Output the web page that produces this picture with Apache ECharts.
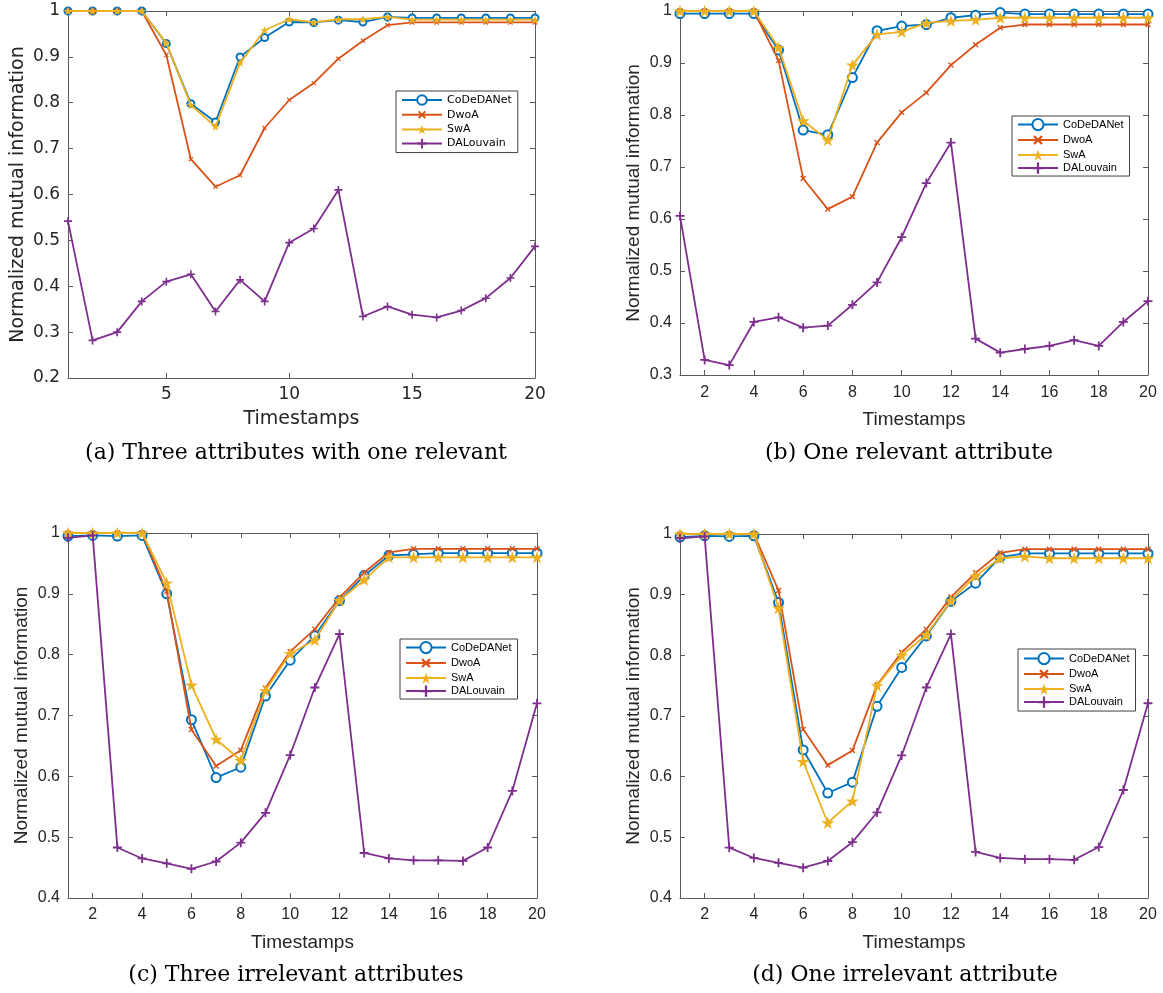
<!DOCTYPE html>
<html>
<head>
<meta charset="utf-8">
<script src="https://cdn.jsdelivr.net/npm/echarts@6/dist/echarts.min.js"></script>
<style>
html,body{margin:0;padding:0;background:#fff;}
#c{width:1163px;height:993px;}
</style>
</head>
<body>
<div id="c"></div>
<script>
// ---------- data ----------
const timestamps = [1,2,3,4,5,6,7,8,9,10,11,12,13,14,15,16,17,18,19,20];
const seriesNames = ['CoDeDANet','DwoA','SwA','DALouvain'];

// (a) Three attributes with one relevant
const aCoDeDANet = [1.0,1.0,1.0,1.0,0.929,0.798,0.758,0.900,0.942,0.976,0.975,0.980,0.976,0.987,0.985,0.985,0.985,0.985,0.985,0.985];
const aDwoA      = [1.0,1.0,1.0,1.0,0.904,0.677,0.617,0.642,0.745,0.806,0.843,0.896,0.935,0.969,0.975,0.975,0.975,0.975,0.975,0.975];
const aSwA       = [1.0,1.0,1.0,1.0,0.930,0.795,0.748,0.887,0.958,0.982,0.975,0.982,0.982,0.987,0.981,0.981,0.981,0.981,0.981,0.981];
const aDALouvain = [0.542,0.282,0.300,0.367,0.410,0.426,0.345,0.414,0.367,0.495,0.526,0.610,0.334,0.356,0.338,0.332,0.347,0.374,0.418,0.487];

// (b) One relevant attribute
const bCoDeDANet = [0.995,0.995,0.995,0.995,0.925,0.771,0.762,0.872,0.962,0.971,0.974,0.987,0.992,0.997,0.994,0.994,0.994,0.994,0.994,0.994];
const bDwoA      = [1.0,1.0,1.0,1.0,0.905,0.678,0.619,0.643,0.747,0.805,0.843,0.896,0.935,0.968,0.974,0.974,0.974,0.974,0.974,0.974];
const bSwA       = [1.0,1.0,1.0,1.0,0.930,0.789,0.752,0.896,0.955,0.960,0.977,0.981,0.983,0.987,0.987,0.987,0.987,0.987,0.987,0.987];
const bDALouvain = [0.606,0.329,0.319,0.402,0.411,0.391,0.395,0.435,0.478,0.565,0.669,0.747,0.370,0.343,0.350,0.356,0.367,0.356,0.402,0.442];

// (c) Three irrelevant attributes
const cCoDeDANet = [0.995,0.996,0.995,0.996,0.900,0.693,0.598,0.615,0.732,0.791,0.831,0.889,0.930,0.963,0.965,0.967,0.967,0.967,0.967,0.967];
const cDwoA      = [1.0,1.0,1.0,1.0,0.904,0.677,0.617,0.643,0.745,0.805,0.842,0.894,0.935,0.968,0.974,0.974,0.974,0.974,0.974,0.974];
const cSwA       = [1.0,1.0,1.0,1.0,0.918,0.750,0.661,0.626,0.741,0.802,0.824,0.889,0.923,0.960,0.960,0.960,0.960,0.960,0.960,0.960];
const cDALouvain = [0.992,0.996,0.483,0.465,0.457,0.448,0.460,0.491,0.540,0.635,0.746,0.834,0.474,0.465,0.462,0.462,0.461,0.483,0.576,0.720];

// (d) One irrelevant attribute
const dCoDeDANet = [0.995,0.997,0.996,0.997,0.887,0.644,0.573,0.591,0.716,0.780,0.832,0.889,0.919,0.962,0.968,0.968,0.968,0.968,0.968,0.968];
const dDwoA      = [1.0,1.0,1.0,1.0,0.907,0.678,0.619,0.643,0.751,0.805,0.843,0.896,0.936,0.969,0.975,0.975,0.975,0.975,0.975,0.975];
const dSwA       = [1.0,1.0,1.0,1.0,0.878,0.625,0.524,0.560,0.750,0.800,0.834,0.890,0.931,0.960,0.963,0.960,0.960,0.960,0.960,0.960];
const dDALouvain = [0.993,0.996,0.483,0.466,0.458,0.450,0.461,0.492,0.541,0.635,0.747,0.835,0.476,0.466,0.464,0.464,0.463,0.484,0.578,0.721];

const xTicksA = [5,10,15,20];
const xTicksB = [2,4,6,8,10,12,14,16,18,20];
const captions = ['(a) Three attributes with one relevant','(b) One relevant attribute','(c) Three irrelevant attributes','(d) One irrelevant attribute'];
const xName = 'Timestamps';
const yName = 'Normalized mutual information';

// ---------- styling / layout ----------
const colors = ['#0072BD','#D95319','#EDB120','#7E2F8E'];
const PLUS = 'path://M4,0H6V4H10V6H6V10H4V6H0V4H4Z';
const STAR = 'path://M50,0L61.2,34.5L97.6,34.5L68.2,55.9L79.4,90.5L50,69.1L20.6,90.5L31.8,55.9L2.4,34.5L38.8,34.5Z';

const panels = [
  {key:'a', data:[aCoDeDANet,aDwoA,aSwA,aDALouvain], grid:{left:68,top:11,width:467,height:367}, ymin:0.2,
   xticks:xTicksA, font:'DejaVu Sans', tickSize:17, nameSize:19, xNameGap:32, yNameGap:40, xLabMargin:8,
   legend:{left:396,top:91,gap:2,ih:12,pad:[3,6,3,5]}, sizes:[7,6,9,8], cap:{x:296,y:453}},
  {key:'b', data:[bCoDeDANet,bDwoA,bSwA,bDALouvain], grid:{left:680,top:11,width:468,height:364}, ymin:0.3,
   xticks:xTicksB, font:'Liberation Sans', tickSize:16, nameSize:19, xNameGap:35, yNameGap:37, xLabMargin:10,
   legend:{left:1012,top:116,gap:1,ih:14,pad:[2,6,2,5]}, sizes:[9,7,13,9], cap:{x:909,y:453}},
  {key:'c', data:[cCoDeDANet,cDwoA,cSwA,cDALouvain], grid:{left:68,top:533,width:469,height:365}, ymin:0.4,
   xticks:xTicksB, font:'Liberation Sans', tickSize:16, nameSize:19, xNameGap:35, yNameGap:37, xLabMargin:9,
   legend:{left:400,top:639,gap:1,ih:14,pad:[2,6,2,5]}, sizes:[9,7,13,9], cap:{x:296,y:975}},
  {key:'d', data:[dCoDeDANet,dDwoA,dSwA,dDALouvain], grid:{left:680,top:534,width:468,height:364}, ymin:0.4,
   xticks:xTicksB, font:'Liberation Sans', tickSize:16, nameSize:19, xNameGap:35, yNameGap:37, xLabMargin:9,
   legend:{left:1018,top:649,gap:1,ih:14,pad:[3,6,3,5]}, sizes:[9,7,13,9], cap:{x:905,y:975}}
];

const axisColor = '#5a5a5a';
const textColor = '#262626';

const option = {
  animation:false,
  backgroundColor:'#fff',
  grid:[], xAxis:[], yAxis:[], series:[], legend:[], graphic:[]
};

panels.forEach((p, pi) => {
  option.grid.push(Object.assign({containLabel:false}, p.grid));
  const lineAx = {show:true, lineStyle:{color:axisColor, width:1}};
  const tickAx = (vals) => ({show:true, inside:true, length:5, lineStyle:{color:axisColor}, customValues:vals});
  option.xAxis.push({
    type:'value', gridIndex:pi, min:1, max:20, position:'bottom',
    axisLine:lineAx, axisTick:tickAx(p.xticks),
    axisLabel:{customValues:p.xticks, color:textColor, fontFamily:p.font, fontSize:p.tickSize, margin:p.xLabMargin},
    splitLine:{show:false},
    name:xName, nameLocation:'middle', nameGap:p.xNameGap,
    nameTextStyle:{color:textColor, fontFamily:p.font, fontSize:p.nameSize}
  });
  option.xAxis.push({
    type:'value', gridIndex:pi, min:1, max:20, position:'top',
    axisLine:lineAx, axisTick:tickAx(p.xticks),
    axisLabel:{show:false}, splitLine:{show:false}
  });
  option.yAxis.push({
    type:'value', gridIndex:pi, min:p.ymin, max:1, interval:0.1, position:'left',
    axisLine:lineAx, axisTick:{show:true, inside:true, length:5, lineStyle:{color:axisColor}},
    axisLabel:{color:textColor, fontFamily:p.font, fontSize:p.tickSize, margin:8,
      formatter:(v)=>String(Math.round(v*10)/10)},
    splitLine:{show:false},
    name:yName, nameLocation:'middle', nameRotate:90, nameGap:p.yNameGap,
    nameTextStyle:{color:textColor, fontFamily:p.font, fontSize:p.nameSize}
  });
  option.yAxis.push({
    type:'value', gridIndex:pi, min:p.ymin, max:1, interval:0.1, position:'right',
    axisLine:lineAx, axisTick:{show:true, inside:true, length:5, lineStyle:{color:axisColor}},
    axisLabel:{show:false}, splitLine:{show:false}
  });

  const symbols = ['emptyCircle', PLUS, STAR, PLUS];
  const rotates = [0, 45, 0, 0];
  const legendNames = [];
  p.data.forEach((vals, si) => {
    const nm = seriesNames[si] + '#' + p.key;
    legendNames.push(nm);
    option.series.push({
      type:'line', name:nm, xAxisIndex:2*pi, yAxisIndex:2*pi,
      data: timestamps.map((t, i) => [t, vals[i]]),
      symbol:symbols[si], symbolSize:p.sizes[si], symbolRotate:rotates[si], symbolKeepAspect:true,
      clip:false,
      lineStyle:{color:colors[si], width:1.8},
      itemStyle: si === 0 ? {color:colors[si], borderColor:colors[si], borderWidth:1.6}
                           : {color:colors[si], borderWidth:0},
      emphasis:{disabled:true},
      z: 2 + si
    });
  });

  option.legend.push({
    orient:'vertical', left:p.legend.left, top:p.legend.top,
    data:legendNames,
    formatter:(n)=>n.split('#')[0],
    itemWidth:40, itemHeight:p.legend.ih, itemGap:p.legend.gap,
    padding:p.legend.pad,
    backgroundColor:'#fff', borderColor:'#404040', borderWidth:1, borderRadius:0,
    selectedMode:false,
    textStyle:{color:'#000', fontFamily:p.font, fontSize:11, lineHeight:12}
  });

  option.graphic.push({
    type:'text', x:p.cap.x, y:p.cap.y,
    style:{text:captions[pi], fill:'#000', fontFamily:'DejaVu Serif', fontSize:22,
      align:'center', verticalAlign:'middle'}
  });
});

const chart = echarts.init(document.getElementById('c'), null, {renderer:'canvas'});
chart.setOption(option);
</script>
</body>
</html>
